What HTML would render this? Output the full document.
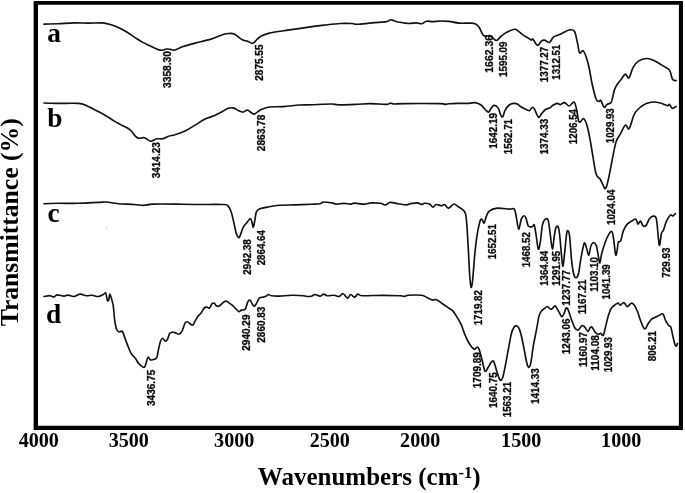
<!DOCTYPE html>
<html lang="en">
<head>
<meta charset="utf-8">
<title>FTIR spectra</title>
<style>
html,body{margin:0;padding:0;background:#fff;}
body{width:685px;height:493px;overflow:hidden;}
svg{display:block;}
.c{fill:none;stroke:#111;stroke-width:1.65;stroke-linejoin:round;stroke-linecap:round;}
.pk{font-family:"Liberation Sans",Arial,sans-serif;font-weight:bold;font-size:10.6px;fill:#0a0a0a;stroke:#0a0a0a;stroke-width:0.3;}
.ax{font-family:"Liberation Serif","Times New Roman",serif;font-weight:bold;fill:#000;}
</style>
</head>
<body>
<svg width="685" height="493" viewBox="0 0 685 493">
<rect x="0" y="0" width="685" height="493" fill="#fff"/>
<path fill="#000" fill-rule="evenodd" d="M33.6,1.1H683V429.9H33.6Z M38,4.7V425.7H678.9V4.7Z"/>
<circle cx="106.3" cy="228" r="0.8" fill="#c8c8c8"/>
<path class="c" d="M44.0,24.1C46.4,24.0 53.1,23.9 58.1,23.7C63.1,23.5 69.1,23.0 74.1,22.9C79.1,22.8 83.5,23.1 88.2,23.1C92.9,23.1 98.6,22.7 102.3,22.9C106.0,23.1 107.6,23.7 110.3,24.5C113.0,25.3 115.6,26.3 118.3,27.5C121.0,28.7 123.7,30.1 126.4,31.7C129.1,33.3 131.7,35.4 134.4,37.1C137.1,38.8 139.7,40.6 142.4,42.1C145.1,43.6 147.8,44.8 150.5,46.1C153.2,47.4 156.5,49.1 158.5,49.8C160.5,50.5 161.2,50.3 162.5,50.2C163.8,50.1 165.2,49.1 166.5,49.0C167.8,48.9 169.1,49.2 170.5,49.4C171.9,49.6 172.9,50.5 175.0,50.0C177.1,49.5 179.7,47.6 183.0,46.5C186.3,45.4 190.4,44.3 195.1,43.1C199.8,41.9 206.4,40.5 211.1,39.1C215.8,37.7 220.2,35.4 223.2,34.5C226.2,33.6 227.4,33.6 229.2,33.5C231.0,33.4 232.0,33.1 234.2,34.1C236.4,35.1 240.1,38.5 242.3,39.7C244.5,40.9 245.5,40.5 247.3,41.1C249.1,41.7 251.2,43.6 252.9,43.3C254.6,43.0 255.9,40.3 257.3,39.1C258.7,37.9 259.3,37.1 261.3,36.1C263.3,35.1 265.7,34.0 269.4,33.1C273.1,32.2 279.0,31.4 283.4,30.7C287.8,30.0 290.7,29.8 295.5,29.1C300.3,28.4 307.2,27.3 312.0,26.6C316.8,25.9 319.3,25.6 324.0,25.1C328.7,24.6 335.4,23.8 340.1,23.5C344.8,23.2 349.4,23.4 352.2,23.5C355.0,23.6 353.9,24.4 357.2,24.3C360.5,24.2 367.3,23.3 372.2,22.9C377.1,22.4 383.2,22.1 386.3,21.6C389.4,21.1 389.4,19.9 390.7,19.8C392.0,19.7 393.0,20.4 394.3,20.8C395.6,21.2 396.0,21.6 398.3,22.0C400.6,22.4 405.4,23.4 408.4,23.5C411.4,23.6 414.1,22.9 416.4,22.9C418.7,22.9 420.3,24.0 422.0,23.7C423.7,23.4 424.8,21.5 426.5,21.2C428.2,20.9 430.2,21.6 432.5,21.6C434.8,21.6 437.8,21.0 440.5,21.0C443.2,21.0 445.9,21.0 449.0,21.4C452.1,21.8 455.6,22.8 459.0,23.1C462.4,23.4 466.4,23.0 469.1,23.1C471.8,23.2 473.4,23.0 475.1,23.7C476.8,24.4 477.8,25.2 479.1,27.1C480.4,29.0 481.9,33.6 483.1,35.1C484.3,36.6 484.9,36.0 486.1,36.1C487.3,36.2 488.5,35.0 490.2,35.7C491.9,36.4 494.4,40.4 496.2,40.5C498.0,40.6 499.4,37.5 501.2,36.1C503.0,34.7 505.0,33.2 507.2,32.1C509.4,31.0 512.4,29.5 514.3,29.3C516.1,29.1 516.8,30.1 518.3,31.1C519.8,32.1 521.6,33.9 523.3,35.1C525.0,36.3 527.0,37.3 528.3,38.1C529.6,38.9 530.5,39.9 531.3,40.1C532.1,40.3 531.9,38.2 532.9,39.1C533.9,40.0 536.0,45.0 537.4,45.3C538.8,45.6 540.2,42.0 541.4,41.1C542.6,40.2 543.1,39.9 544.4,40.1C545.7,40.3 547.9,43.0 549.4,42.5C550.9,42.0 551.9,38.3 553.4,37.1C554.9,35.9 556.5,35.9 558.4,35.1C560.2,34.3 562.7,33.0 564.5,32.1C566.3,31.2 567.4,30.2 569.0,30.0C570.6,29.8 572.9,29.0 574.3,31.0C575.7,33.0 576.4,38.5 577.3,42.1C578.2,45.7 578.6,51.4 579.6,52.8C580.6,54.2 581.9,49.9 583.0,50.6C584.1,51.3 585.2,54.1 586.2,57.0C587.2,59.9 588.2,63.7 589.2,68.2C590.2,72.8 591.0,79.1 592.2,84.3C593.4,89.5 595.0,96.5 596.2,99.3C597.4,102.1 598.4,101.1 599.2,101.3C600.0,101.5 600.0,99.3 600.8,100.3C601.6,101.3 603.1,106.6 604.2,107.3C605.3,108.0 606.0,105.1 607.2,104.3C608.4,103.5 610.1,104.5 611.3,102.2C612.5,99.9 613.3,93.2 614.3,90.2C615.3,87.2 616.1,86.0 617.3,84.2C618.5,82.4 620.0,80.9 621.3,79.2C622.6,77.5 624.1,74.3 625.3,74.1C626.5,73.9 627.5,78.0 628.3,78.2C629.1,78.4 629.5,76.9 630.3,75.1C631.1,73.2 631.9,69.4 633.3,67.1C634.6,64.8 636.2,62.5 638.4,61.1C640.6,59.7 643.7,58.6 646.4,58.5C649.1,58.4 651.5,59.4 654.4,60.7C657.2,62.0 661.0,64.5 663.5,66.1C666.0,67.7 668.0,67.9 669.5,70.1C671.0,72.3 671.4,77.5 672.5,79.2C673.6,81.0 675.5,80.4 676.1,80.6"/>
<path class="c" d="M44.0,103.0C46.0,103.1 50.4,103.3 56.1,103.4C61.8,103.5 73.2,103.1 78.2,103.4C83.2,103.7 83.5,104.4 86.2,105.4C88.9,106.4 91.2,108.0 94.2,109.5C97.2,111.0 101.0,112.8 104.3,114.7C107.6,116.6 111.3,119.3 114.3,121.1C117.3,122.9 119.6,124.0 122.3,125.5C125.0,127.0 128.2,128.3 130.4,130.1C132.6,131.9 134.1,134.8 135.4,136.2C136.7,137.5 136.9,137.9 138.4,138.2C139.9,138.5 142.4,137.3 144.4,137.8C146.4,138.3 148.5,141.0 150.5,141.2C152.5,141.4 154.5,139.2 156.5,138.8C158.5,138.4 160.5,139.2 162.5,138.8C164.5,138.4 166.4,136.9 168.5,136.2C170.6,135.5 172.2,135.5 175.0,134.7C177.8,133.8 181.7,132.7 185.0,131.1C188.3,129.5 191.8,127.1 195.1,125.1C198.4,123.1 202.1,120.6 205.1,119.1C208.1,117.6 210.2,117.4 213.2,116.1C216.2,114.8 220.7,112.4 223.2,111.1C225.7,109.8 226.5,108.8 228.2,108.3C229.9,107.8 231.5,107.5 233.2,107.9C234.9,108.3 236.7,109.8 238.3,110.5C239.9,111.2 241.4,112.2 242.9,112.1C244.4,112.0 245.9,110.0 247.3,110.1C248.7,110.2 250.1,112.0 251.3,112.7C252.5,113.4 253.3,114.2 254.3,114.1C255.3,114.0 256.0,112.9 257.3,112.1C258.6,111.3 260.3,109.9 262.3,109.1C264.3,108.2 265.9,107.4 269.4,107.0C272.9,106.6 278.4,106.9 283.4,106.6C288.4,106.3 294.7,105.3 299.5,105.0C304.3,104.7 306.6,104.9 312.0,104.7C317.4,104.5 327.7,104.0 332.0,104.0C336.3,104.0 334.0,104.7 338.0,104.8C342.0,104.9 350.7,104.6 356.0,104.4C361.3,104.2 365.0,103.6 370.0,103.6C375.0,103.6 382.6,104.5 386.0,104.4C389.4,104.3 388.9,103.3 390.3,103.2C391.7,103.1 392.0,103.9 394.3,104.0C396.6,104.1 396.4,103.7 404.0,103.6C411.6,103.5 433.2,103.5 440.0,103.6C446.8,103.7 443.0,104.4 444.5,104.4C446.0,104.4 446.6,104.0 449.0,103.8C451.4,103.6 455.6,103.5 459.0,103.4C462.4,103.3 466.4,103.5 469.1,103.4C471.8,103.3 473.1,102.3 475.1,102.6C477.1,102.9 479.4,103.8 481.1,105.0C482.8,106.2 483.9,108.3 485.1,109.5C486.4,110.7 487.6,112.3 488.6,112.1C489.6,111.9 490.3,109.2 491.2,108.1C492.1,107.0 493.0,105.4 494.2,105.4C495.4,105.4 497.1,106.5 498.2,108.1C499.3,109.7 500.0,113.7 500.8,115.1C501.6,116.5 502.1,117.5 502.8,116.7C503.5,115.9 504.1,112.0 505.2,110.1C506.3,108.1 507.9,106.1 509.2,105.0C510.5,103.9 511.9,103.6 513.3,103.4C514.6,103.2 516.0,103.4 517.3,104.0C518.6,104.6 519.8,106.1 521.3,107.0C522.8,107.9 525.0,108.9 526.3,109.5C527.6,110.1 528.3,111.0 529.3,110.7C530.3,110.4 531.5,107.7 532.3,107.4C533.1,107.1 533.3,107.1 534.3,108.7C535.3,110.3 537.2,116.2 538.4,117.1C539.6,118.0 540.2,115.4 541.4,114.1C542.6,112.8 544.1,110.5 545.4,109.5C546.7,108.5 548.1,108.8 549.4,108.1C550.7,107.3 552.1,105.8 553.4,105.0C554.7,104.2 556.2,103.5 557.4,103.4C558.6,103.3 559.2,104.7 560.4,104.6C561.6,104.5 563.0,102.4 564.5,102.6C566.0,102.8 567.7,106.1 569.3,106.0C570.9,105.9 572.8,101.4 574.0,102.0C575.2,102.6 575.9,106.4 576.6,109.5C577.4,112.6 577.9,118.5 578.5,120.6C579.1,122.7 579.6,122.2 580.5,121.9C581.4,121.6 582.5,118.0 583.6,118.6C584.7,119.2 585.9,121.9 587.0,125.5C588.1,129.1 589.2,134.8 590.2,140.2C591.2,145.6 592.2,152.5 593.2,158.2C594.2,163.9 595.0,170.8 596.2,174.3C597.4,177.8 599.0,177.5 600.2,179.3C601.4,181.1 602.4,183.7 603.2,185.3C604.0,186.9 604.5,189.0 605.2,188.8C605.9,188.6 606.4,187.4 607.2,184.3C608.0,181.2 609.2,175.3 610.2,170.3C611.2,165.3 612.3,159.0 613.3,154.2C614.3,149.3 615.1,144.5 616.3,141.2C617.5,137.8 618.8,136.8 620.3,134.1C621.8,131.4 623.9,125.9 625.3,125.1C626.7,124.3 627.7,129.4 628.7,129.1C629.7,128.8 630.4,125.6 631.3,123.1C632.2,120.6 632.9,116.6 634.3,114.1C635.6,111.6 637.4,109.8 639.4,108.0C641.4,106.2 644.1,104.6 646.4,103.6C648.7,102.6 651.1,102.1 653.4,102.0C655.7,101.9 658.0,102.4 660.4,103.0C662.8,103.6 666.0,105.4 667.5,105.6C669.0,105.8 668.7,103.9 669.5,104.4C670.3,104.9 671.4,108.1 672.5,108.4C673.6,108.7 675.5,106.7 676.1,106.4"/>
<path class="c" d="M44.0,203.7C46.4,203.6 52.4,203.4 58.1,203.3C63.8,203.2 71.5,203.5 78.2,203.3C84.9,203.2 93.5,202.6 98.2,202.4C102.9,202.2 103.0,201.8 106.3,202.0C109.6,202.2 113.6,203.3 118.3,203.7C123.0,204.1 130.1,204.2 134.4,204.5C138.8,204.8 141.4,205.4 144.4,205.3C147.4,205.2 147.4,204.3 152.5,204.1C157.6,203.9 167.9,204.0 175.0,204.1C182.1,204.2 187.1,204.4 195.1,204.5C203.1,204.6 217.7,204.2 223.2,204.5C228.7,204.8 226.9,204.8 228.2,206.1C229.5,207.4 230.2,209.1 231.2,212.1C232.2,215.1 233.4,220.6 234.2,224.1C235.0,227.6 235.4,230.9 236.2,233.2C236.9,235.4 238.0,237.3 238.7,237.6C239.4,237.9 239.5,236.9 240.3,235.2C241.1,233.4 242.1,229.3 243.3,227.1C244.5,224.9 246.1,223.5 247.3,222.1C248.5,220.7 249.5,218.5 250.3,218.5C251.1,218.5 251.4,220.7 251.9,222.1C252.4,223.5 252.8,227.4 253.3,227.1C253.8,226.8 254.4,222.6 254.9,220.1C255.4,217.6 255.6,213.9 256.3,212.1C257.0,210.3 257.5,209.9 259.3,209.1C261.1,208.3 264.0,207.7 267.4,207.1C270.8,206.5 274.7,205.7 279.4,205.3C284.1,204.9 290.1,205.1 295.5,204.9C300.9,204.7 307.9,204.5 312.0,204.3C316.1,204.1 318.1,204.1 320.0,203.7C321.9,203.3 321.6,202.1 323.6,202.0C325.6,201.9 330.0,202.6 332.1,202.9C334.2,203.2 334.1,204.0 336.1,204.1C338.1,204.2 341.8,203.3 344.1,203.3C346.5,203.3 348.5,204.1 350.2,204.1C351.9,204.1 351.9,203.1 354.2,203.1C356.5,203.1 361.4,204.1 364.2,204.1C367.0,204.1 368.5,203.0 371.2,202.9C373.9,202.8 377.9,203.0 380.3,203.3C382.7,203.6 383.6,205.1 385.3,204.9C387.0,204.8 388.1,202.6 390.3,202.4C392.5,202.2 395.6,203.3 398.3,203.7C401.0,204.1 404.4,204.9 406.4,204.9C408.4,204.9 408.6,204.0 410.4,203.7C412.2,203.4 415.6,202.8 417.4,202.9C419.2,203.0 420.2,204.4 421.4,204.5C422.6,204.6 423.1,203.4 424.5,203.3C425.9,203.2 428.1,203.5 429.5,204.1C430.9,204.7 431.8,207.0 432.9,207.1C434.0,207.2 434.7,204.7 436.1,204.5C437.5,204.3 440.1,205.7 441.5,205.7C442.9,205.7 443.6,204.3 444.5,204.5C445.4,204.7 446.1,206.5 446.9,207.1C447.6,207.7 447.8,208.6 449.0,208.1C450.2,207.6 452.5,204.2 454.0,204.0C455.5,203.8 456.5,205.6 458.0,206.6C459.5,207.6 461.8,208.3 463.1,210.1C464.5,211.8 465.3,211.2 466.1,217.1C466.9,222.9 467.5,235.5 468.1,245.2C468.7,254.9 469.2,268.3 469.7,275.3C470.2,282.3 470.6,286.7 471.1,287.4C471.6,288.1 472.1,284.7 472.7,279.3C473.3,273.9 474.0,262.6 474.7,255.2C475.4,247.8 476.2,240.9 477.1,235.2C478.0,229.5 479.3,223.7 480.1,221.1C480.9,218.5 481.4,219.2 482.1,219.5C482.8,219.8 483.4,223.5 484.1,223.1C484.8,222.7 485.2,219.1 486.1,217.1C487.0,215.1 487.4,212.6 489.2,211.1C491.0,209.6 493.9,208.4 497.2,208.1C500.5,207.8 506.4,208.9 509.2,209.1C512.0,209.3 513.1,207.8 514.3,209.1C515.5,210.4 515.6,213.8 516.3,217.1C517.0,220.4 517.9,228.8 518.7,229.1C519.5,229.4 520.4,221.3 521.3,219.1C522.2,216.9 523.5,215.7 524.3,215.7C525.1,215.7 525.6,217.4 526.3,219.1C527.0,220.8 527.3,224.8 528.3,226.1C529.3,227.4 531.3,226.9 532.3,226.7C533.3,226.5 533.6,223.3 534.3,225.1C535.0,226.8 535.7,233.2 536.4,237.2C537.1,241.2 537.7,248.5 538.4,249.2C539.1,249.9 539.7,245.2 540.4,241.2C541.1,237.2 541.6,228.8 542.4,225.1C543.2,221.4 544.4,219.8 545.4,219.1C546.4,218.3 547.4,218.1 548.2,220.6C549.0,223.1 549.5,229.5 550.2,234.2C550.9,238.9 551.7,248.8 552.4,249.0C553.1,249.2 553.8,238.7 554.4,235.2C555.0,231.7 555.3,229.2 555.9,227.8C556.5,226.4 557.5,225.3 558.2,226.9C558.9,228.5 559.4,232.5 559.9,237.2C560.4,241.9 561.0,250.3 561.5,255.2C562.0,260.1 562.5,266.6 563.0,266.3C563.5,266.0 564.0,258.5 564.6,253.2C565.2,247.9 566.0,238.4 566.5,234.7C567.0,230.9 567.4,230.4 567.9,230.7C568.4,230.9 569.0,231.3 569.6,236.2C570.2,241.1 570.9,254.0 571.6,260.3C572.3,266.6 572.9,270.9 573.6,273.8C574.3,276.7 575.2,277.7 576.0,277.7C576.8,277.7 577.7,276.7 578.5,273.8C579.3,270.9 579.8,264.7 580.6,260.3C581.4,255.9 582.4,250.1 583.1,247.2C583.8,244.3 584.1,242.6 584.7,242.8C585.3,243.0 585.9,246.1 586.6,248.2C587.3,250.3 588.1,255.5 588.8,255.2C589.5,254.9 590.1,248.3 590.8,246.2C591.5,244.1 592.3,243.0 593.2,242.8C594.1,242.6 595.4,243.1 596.2,245.2C597.0,247.3 597.6,252.2 598.2,255.2C598.8,258.1 599.2,263.2 599.8,262.9C600.4,262.6 600.9,256.6 601.8,253.2C602.7,249.8 604.0,245.5 605.2,242.2C606.4,238.9 608.1,235.4 609.2,233.6C610.3,231.8 611.2,230.7 611.9,231.5C612.6,232.3 612.9,234.3 613.5,238.2C614.1,242.1 615.1,253.0 615.7,254.8C616.3,256.6 616.9,251.3 617.3,249.2C617.7,247.1 617.7,243.6 618.3,242.2C618.9,240.8 619.9,242.7 620.7,240.8C621.5,239.0 622.2,233.9 623.3,231.1C624.4,228.3 625.8,225.8 627.3,224.1C628.8,222.4 630.9,221.5 632.3,220.7C633.7,219.9 634.8,218.5 635.8,219.1C636.8,219.7 637.2,223.8 638.0,224.1C638.8,224.4 639.5,220.8 640.4,221.1C641.3,221.4 642.4,225.4 643.4,226.1C644.4,226.8 645.4,226.3 646.4,225.1C647.4,223.9 648.2,220.2 649.4,218.7C650.6,217.2 652.2,216.0 653.4,216.1C654.6,216.2 655.6,215.4 656.4,219.1C657.2,222.8 657.9,233.8 658.4,238.2C658.9,242.5 659.1,246.0 659.6,245.2C660.1,244.4 660.9,235.7 661.5,233.2C662.1,230.7 662.7,232.1 663.5,230.1C664.3,228.1 665.3,223.6 666.5,221.1C667.7,218.6 669.4,215.9 670.5,215.1C671.6,214.3 672.1,216.4 672.9,216.1C673.7,215.8 675.1,213.9 675.5,213.5"/>
<path class="c" d="M44.0,296.5C45.0,296.4 48.3,295.6 50.0,295.7C51.7,295.8 52.9,297.0 54.1,296.9C55.3,296.8 55.4,295.0 57.1,294.9C58.8,294.8 62.3,296.1 64.1,296.1C65.9,296.1 66.4,295.0 68.1,295.1C69.8,295.2 72.1,296.7 74.1,296.5C76.1,296.3 78.2,294.2 80.2,294.1C82.2,294.0 84.2,295.5 86.2,295.7C88.2,295.9 90.2,295.2 92.2,295.3C94.2,295.4 96.4,296.6 98.2,296.5C100.0,296.4 102.0,295.1 103.3,294.5C104.5,293.9 105.0,292.2 105.7,293.1C106.4,294.0 106.8,298.9 107.3,300.1C107.8,301.3 108.3,301.1 108.7,300.1C109.1,299.1 109.4,294.1 109.9,294.1C110.4,294.1 111.3,298.1 111.9,300.1C112.5,302.1 112.8,302.8 113.3,306.1C113.8,309.5 114.1,316.2 114.7,320.2C115.3,324.1 115.9,327.9 116.7,329.8C117.5,331.7 118.4,331.5 119.3,331.8C120.2,332.1 121.3,330.2 122.3,331.4C123.3,332.6 124.3,336.5 125.3,339.2C126.3,341.9 127.4,344.9 128.4,347.3C129.4,349.8 130.2,352.1 131.4,353.9C132.6,355.7 134.2,356.7 135.4,358.3C136.6,359.9 137.4,362.0 138.4,363.3C139.4,364.6 140.4,365.2 141.4,365.9C142.4,366.6 143.6,367.7 144.4,367.3C145.2,366.9 145.4,365.0 146.0,363.3C146.6,361.6 147.2,357.9 148.0,357.3C148.8,356.7 149.4,359.6 150.5,359.9C151.6,360.2 153.4,359.7 154.5,359.3C155.6,358.9 156.2,359.0 156.9,357.3C157.6,355.6 157.9,352.0 158.5,349.3C159.1,346.6 159.8,343.1 160.5,341.2C161.2,339.3 161.7,338.2 162.5,338.2C163.3,338.2 164.7,341.0 165.5,341.2C166.3,341.4 166.8,340.4 167.5,339.2C168.2,338.0 168.7,335.0 169.5,333.8C170.3,332.6 171.2,332.4 172.1,332.2C173.0,332.0 173.8,332.3 175.0,332.6C176.2,332.9 177.8,334.4 179.0,334.2C180.2,334.0 181.0,333.0 182.0,331.2C183.0,329.4 184.1,324.8 185.0,323.2C185.9,321.6 186.6,321.7 187.4,321.8C188.2,321.9 189.2,323.2 190.1,323.8C191.0,324.4 191.9,325.6 192.7,325.2C193.5,324.8 194.2,322.7 195.1,321.2C196.0,319.7 197.1,317.5 198.1,316.1C199.1,314.8 200.1,314.4 201.1,313.1C202.1,311.8 203.2,309.1 204.1,308.1C205.0,307.1 205.8,307.1 206.7,307.1C207.6,307.1 208.6,308.7 209.5,308.1C210.4,307.5 211.3,304.5 212.1,303.7C212.9,302.9 213.5,302.8 214.2,303.1C214.9,303.4 215.4,305.2 216.2,305.7C217.0,306.2 218.0,306.6 219.2,306.1C220.4,305.6 222.0,303.3 223.2,302.5C224.4,301.7 225.2,301.0 226.2,301.1C227.2,301.2 228.2,302.4 229.2,303.1C230.2,303.8 231.2,304.3 232.2,305.1C233.2,305.9 234.1,307.0 235.2,308.1C236.3,309.2 237.9,311.4 238.9,311.7C239.9,312.0 240.2,310.5 241.3,310.1C242.4,309.7 244.2,310.4 245.3,309.1C246.4,307.8 246.9,303.6 247.7,302.1C248.5,300.6 249.1,299.8 249.9,300.1C250.7,300.4 251.6,303.1 252.3,304.1C253.0,305.1 253.6,306.2 254.3,306.1C255.0,306.0 255.5,305.0 256.3,303.7C257.1,302.4 258.1,299.2 259.3,298.1C260.5,297.0 262.2,297.4 263.4,297.1C264.6,296.8 265.6,296.5 266.4,296.1C267.2,295.7 267.6,294.6 268.4,294.5C269.2,294.4 269.6,295.4 271.4,295.7C273.2,296.0 276.0,296.2 279.4,296.1C282.8,296.0 287.5,295.4 291.5,295.3C295.5,295.2 300.8,295.5 303.5,295.7C306.2,295.9 306.1,296.4 307.5,296.5C308.9,296.6 310.8,296.3 312.0,296.0C313.2,295.7 313.7,294.5 315.0,294.5C316.3,294.5 318.6,296.2 320.0,296.1C321.4,296.0 322.4,294.2 323.6,294.1C324.8,294.0 325.4,295.5 327.1,295.7C328.9,295.9 332.1,295.2 334.1,295.3C336.1,295.4 337.6,296.8 339.1,296.5C340.6,296.2 341.7,293.4 343.1,293.7C344.5,294.0 346.4,298.0 347.7,298.1C348.9,298.2 349.5,294.6 350.6,294.5C351.8,294.4 353.4,297.4 354.6,297.3C355.8,297.2 356.5,294.4 357.8,294.1C359.1,293.8 358.1,295.5 362.2,295.7C366.3,295.9 375.9,295.3 382.3,295.3C388.7,295.3 396.7,295.5 400.4,295.7C404.1,295.9 403.1,296.6 404.4,296.5C405.7,296.4 405.6,295.5 408.4,295.3C411.2,295.1 418.2,294.9 421.4,295.3C424.6,295.7 425.6,296.9 427.5,297.7C429.4,298.5 431.0,299.8 432.5,300.1C434.0,300.4 434.8,299.1 436.5,299.7C438.2,300.3 440.4,302.3 442.5,303.7C444.6,305.1 447.2,307.1 449.0,308.3C450.8,309.5 451.7,309.6 453.0,311.1C454.3,312.6 455.7,314.9 457.0,317.1C458.3,319.3 459.6,321.1 461.0,324.1C462.4,327.1 463.8,332.0 465.1,335.2C466.5,338.4 467.6,340.9 469.1,343.2C470.6,345.5 472.8,348.5 474.1,349.2C475.4,349.9 476.3,347.2 477.1,347.2C477.9,347.2 478.3,347.0 479.1,349.2C479.9,351.4 481.1,356.6 482.1,360.3C483.1,364.0 484.1,370.1 485.1,371.3C486.1,372.5 487.2,368.8 488.2,367.3C489.2,365.8 490.3,363.3 491.2,362.3C492.1,361.3 492.8,360.1 493.6,361.3C494.4,362.5 495.3,366.5 496.2,369.3C497.1,372.1 498.4,376.5 499.2,378.4C500.0,380.2 500.2,380.6 500.8,380.4C501.4,380.2 502.1,379.6 502.8,377.3C503.5,375.0 504.3,370.8 505.2,366.3C506.1,361.8 507.2,355.6 508.2,350.2C509.2,344.8 510.3,337.9 511.2,334.2C512.1,330.5 512.9,329.2 513.7,327.8C514.6,326.4 515.4,325.6 516.3,325.7C517.2,325.8 518.0,326.3 518.9,328.2C519.8,330.1 520.8,333.5 521.7,337.2C522.6,340.9 523.4,345.8 524.3,350.2C525.2,354.6 526.1,360.4 526.9,363.3C527.7,366.2 528.2,367.5 528.9,367.3C529.6,367.1 530.2,365.8 530.9,362.3C531.6,358.8 532.4,351.6 533.3,346.2C534.2,340.8 535.4,335.2 536.4,330.2C537.4,325.2 538.2,319.3 539.0,316.1C539.8,312.9 540.5,312.4 541.4,311.1C542.3,309.8 543.4,309.3 544.4,308.5C545.4,307.7 546.4,306.4 547.4,306.5C548.4,306.6 549.6,308.8 550.4,309.1C551.2,309.4 551.6,309.0 552.4,308.5C553.2,308.0 554.1,305.7 555.0,305.9C555.9,306.1 556.7,308.0 557.7,309.6C558.7,311.2 560.1,314.4 560.9,315.6C561.6,316.8 561.7,317.0 562.2,316.6C562.7,316.2 563.5,314.9 564.1,313.5C564.8,312.1 565.4,308.6 566.1,308.0C566.8,307.4 567.4,308.2 568.3,310.1C569.2,312.0 570.2,316.2 571.3,319.2C572.4,322.1 573.7,326.0 574.8,327.8C575.9,329.6 576.8,330.3 577.8,330.2C578.8,330.1 579.8,328.0 580.5,327.2C581.2,326.4 581.4,325.6 582.0,325.5C582.6,325.4 583.6,325.9 584.3,326.5C585.0,327.1 585.6,328.5 586.2,329.3C586.9,330.1 587.5,331.6 588.2,331.3C588.9,331.0 589.5,328.4 590.2,327.7C590.9,327.0 591.4,326.5 592.2,327.3C593.0,328.1 594.2,331.1 595.2,332.3C596.2,333.5 597.3,334.1 598.2,334.3C599.1,334.5 599.8,333.1 600.6,333.3C601.4,333.5 602.4,336.1 603.2,335.3C604.0,334.5 604.4,331.5 605.2,328.3C606.0,325.1 607.2,319.7 608.2,316.3C609.2,312.9 610.1,310.1 611.3,308.2C612.5,306.2 614.1,305.4 615.3,304.6C616.5,303.8 617.5,303.1 618.3,303.2C619.1,303.3 619.4,305.3 620.3,305.2C621.2,305.1 622.7,302.4 623.9,302.6C625.1,302.8 626.1,306.5 627.3,306.6C628.5,306.7 630.1,303.4 631.3,303.2C632.5,303.0 633.3,303.9 634.3,305.2C635.3,306.5 636.4,308.7 637.4,311.2C638.4,313.7 639.4,317.6 640.4,320.3C641.4,323.0 642.6,325.9 643.4,327.3C644.2,328.7 644.7,329.2 645.4,328.7C646.1,328.2 646.8,325.9 647.8,324.3C648.8,322.7 650.1,320.5 651.4,319.3C652.7,318.1 654.1,318.0 655.4,317.3C656.7,316.6 658.1,315.9 659.4,315.3C660.6,314.7 661.9,313.1 662.9,313.9C663.9,314.7 664.6,318.4 665.5,320.3C666.4,322.2 667.6,324.1 668.5,325.3C669.4,326.5 670.2,325.5 670.9,327.3C671.6,329.1 672.2,333.5 672.9,336.3C673.6,339.1 674.3,342.8 674.9,344.4C675.5,346.0 676.1,346.2 676.5,346.0C676.9,345.8 677.3,343.8 677.5,343.4"/>
<text class="ax" x="47.2" y="42.2" font-size="27.4">a</text>
<text class="ax" x="47.2" y="127.4" font-size="27.4">b</text>
<text class="ax" x="47.4" y="222" font-size="27.4">c</text>
<text class="ax" x="45.9" y="322.8" font-size="27.4">d</text>
<text class="pk" transform="translate(170.8,88.0) rotate(-90)" textLength="37.0" lengthAdjust="spacingAndGlyphs">3358.30</text>
<text class="pk" transform="translate(262.8,80.7) rotate(-90)" textLength="36.2" lengthAdjust="spacingAndGlyphs">2875.55</text>
<text class="pk" transform="translate(493.0,72.7) rotate(-90)" textLength="37.7" lengthAdjust="spacingAndGlyphs">1662.36</text>
<text class="pk" transform="translate(506.6,76.9) rotate(-90)" textLength="35.4" lengthAdjust="spacingAndGlyphs">1595.09</text>
<text class="pk" transform="translate(547.6,82.3) rotate(-90)" textLength="35.6" lengthAdjust="spacingAndGlyphs">1377.27</text>
<text class="pk" transform="translate(559.8,79.7) rotate(-90)" textLength="35.0" lengthAdjust="spacingAndGlyphs">1312.51</text>
<text class="pk" transform="translate(614.3,143.2) rotate(-90)" textLength="34.9" lengthAdjust="spacingAndGlyphs">1029.93</text>
<text class="pk" transform="translate(159.7,178.3) rotate(-90)" textLength="36.1" lengthAdjust="spacingAndGlyphs">3414.23</text>
<text class="pk" transform="translate(265.1,151.2) rotate(-90)" textLength="36.5" lengthAdjust="spacingAndGlyphs">2863.78</text>
<text class="pk" transform="translate(497.4,148.8) rotate(-90)" textLength="35.8" lengthAdjust="spacingAndGlyphs">1642.19</text>
<text class="pk" transform="translate(512.4,154.2) rotate(-90)" textLength="35.2" lengthAdjust="spacingAndGlyphs">1562.71</text>
<text class="pk" transform="translate(548.0,154.4) rotate(-90)" textLength="35.7" lengthAdjust="spacingAndGlyphs">1374.33</text>
<text class="pk" transform="translate(576.8,144.2) rotate(-90)" textLength="35.2" lengthAdjust="spacingAndGlyphs">1206.54</text>
<text class="pk" transform="translate(614.5,225.1) rotate(-90)" textLength="35.6" lengthAdjust="spacingAndGlyphs">1024.04</text>
<text class="pk" transform="translate(250.7,274.7) rotate(-90)" textLength="35.5" lengthAdjust="spacingAndGlyphs">2942.38</text>
<text class="pk" transform="translate(264.5,265.3) rotate(-90)" textLength="35.1" lengthAdjust="spacingAndGlyphs">2864.64</text>
<text class="pk" transform="translate(495.6,259.3) rotate(-90)" textLength="35.2" lengthAdjust="spacingAndGlyphs">1652.51</text>
<text class="pk" transform="translate(530.1,267.3) rotate(-90)" textLength="35.2" lengthAdjust="spacingAndGlyphs">1468.52</text>
<text class="pk" transform="translate(547.6,285.8) rotate(-90)" textLength="35.0" lengthAdjust="spacingAndGlyphs">1364.84</text>
<text class="pk" transform="translate(560.0,285.8) rotate(-90)" textLength="35.0" lengthAdjust="spacingAndGlyphs">1291.95</text>
<text class="pk" transform="translate(570.1,305.8) rotate(-90)" textLength="35.7" lengthAdjust="spacingAndGlyphs">1237.77</text>
<text class="pk" transform="translate(585.9,314.3) rotate(-90)" textLength="34.6" lengthAdjust="spacingAndGlyphs">1167.21</text>
<text class="pk" transform="translate(597.8,291.8) rotate(-90)" textLength="34.8" lengthAdjust="spacingAndGlyphs">1103.10</text>
<text class="pk" transform="translate(610.4,299.5) rotate(-90)" textLength="35.3" lengthAdjust="spacingAndGlyphs">1041.39</text>
<text class="pk" transform="translate(669.9,277.7) rotate(-90)" textLength="30.1" lengthAdjust="spacingAndGlyphs">729.93</text>
<text class="pk" transform="translate(481.5,325.3) rotate(-90)" textLength="35.1" lengthAdjust="spacingAndGlyphs">1719.82</text>
<text class="pk" transform="translate(154.8,406.0) rotate(-90)" textLength="36.2" lengthAdjust="spacingAndGlyphs">3436.75</text>
<text class="pk" transform="translate(249.7,350.7) rotate(-90)" textLength="36.2" lengthAdjust="spacingAndGlyphs">2940.29</text>
<text class="pk" transform="translate(265.1,342.7) rotate(-90)" textLength="36.0" lengthAdjust="spacingAndGlyphs">2860.83</text>
<text class="pk" transform="translate(480.5,388.2) rotate(-90)" textLength="36.1" lengthAdjust="spacingAndGlyphs">1709.89</text>
<text class="pk" transform="translate(497.0,407.9) rotate(-90)" textLength="35.7" lengthAdjust="spacingAndGlyphs">1640.75</text>
<text class="pk" transform="translate(511.0,417.3) rotate(-90)" textLength="35.5" lengthAdjust="spacingAndGlyphs">1563.21</text>
<text class="pk" transform="translate(538.7,403.9) rotate(-90)" textLength="35.7" lengthAdjust="spacingAndGlyphs">1414.33</text>
<text class="pk" transform="translate(569.6,354.2) rotate(-90)" textLength="35.6" lengthAdjust="spacingAndGlyphs">1243.06</text>
<text class="pk" transform="translate(586.9,367.0) rotate(-90)" textLength="35.0" lengthAdjust="spacingAndGlyphs">1160.97</text>
<text class="pk" transform="translate(599.0,370.8) rotate(-90)" textLength="35.7" lengthAdjust="spacingAndGlyphs">1104.08</text>
<text class="pk" transform="translate(612.4,372.2) rotate(-90)" textLength="35.1" lengthAdjust="spacingAndGlyphs">1029.93</text>
<text class="pk" transform="translate(655.8,361.2) rotate(-90)" textLength="30.1" lengthAdjust="spacingAndGlyphs">806.21</text>
<text class="ax" x="38.8" y="447.1" font-size="20.1" text-anchor="middle">4000</text>
<text class="ax" x="128.8" y="447.1" font-size="20.1" text-anchor="middle">3500</text>
<text class="ax" x="234.2" y="447.1" font-size="20.1" text-anchor="middle">3000</text>
<text class="ax" x="329.8" y="447.1" font-size="20.1" text-anchor="middle">2500</text>
<text class="ax" x="420.2" y="447.1" font-size="20.1" text-anchor="middle">2000</text>
<text class="ax" x="521.2" y="447.1" font-size="20.1" text-anchor="middle">1500</text>
<text class="ax" x="621.2" y="447.1" font-size="20.1" text-anchor="middle">1000</text>
<text class="ax" x="257.8" y="485" font-size="25">Wavenumbers (cm<tspan font-size="16.6" dy="-6.8">-1</tspan><tspan dy="6.8">)</tspan></text>
<text class="ax" transform="translate(17.6,326.3) rotate(-90)" font-size="25" textLength="208" lengthAdjust="spacingAndGlyphs">Transmittance (%)</text>
</svg>
</body>
</html>
